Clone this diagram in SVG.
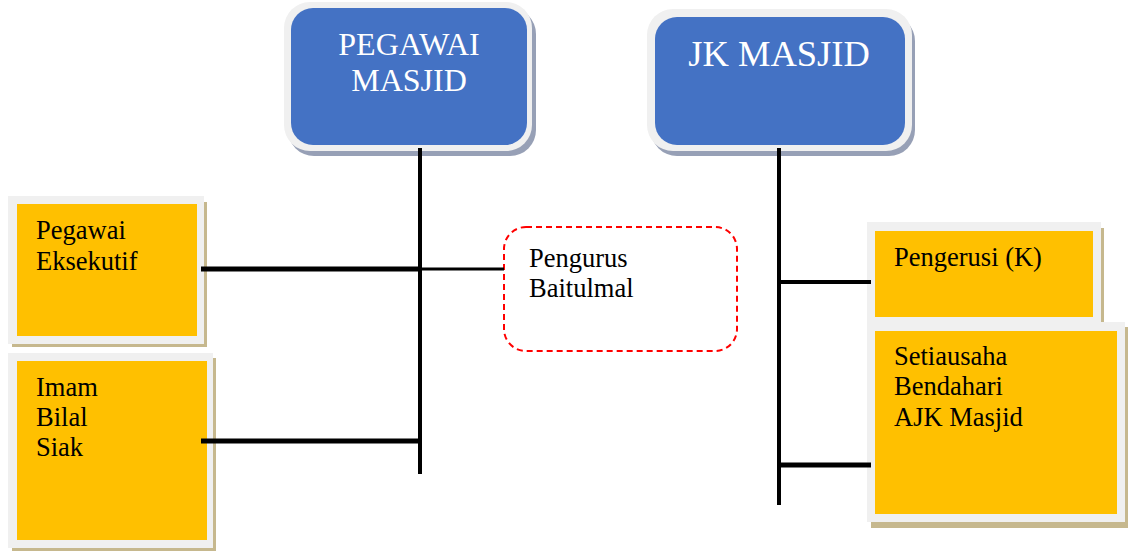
<svg xmlns="http://www.w3.org/2000/svg" width="1128" height="551" viewBox="0 0 1128 551">
<style>
.frame{fill:#F0F0F0}
.bshadow{fill:#97A0B6}
.yshadow{fill:#C6B88E}
.blue{fill:#4472C4}
.yellow{fill:#FFC000}
.ttl{fill:#FFFFFF;text-anchor:middle}
.lbl{font-size:26.5px;fill:#000000}
.ln{stroke:#000000;fill:none}
</style>
<rect width="1128" height="551" fill="#FFFFFF"/>
<g font-family="'Liberation Serif', 'Times New Roman', serif">
<g id="pegawai-masjid">
<rect class="bshadow" x="288" y="8" width="248" height="148" rx="26"/>
<rect class="frame" x="284" y="2" width="248" height="149" rx="26"/>
<rect class="blue" x="291" y="8" width="236" height="137" rx="22"/>
<text class="ttl" x="409" y="55" font-size="32">PEGAWAI</text>
<text class="ttl" x="409" y="91" font-size="32">MASJID</text>
</g>
<g id="jk-masjid">
<rect class="bshadow" x="651" y="15" width="264" height="141" rx="26"/>
<rect class="frame" x="647" y="9" width="265" height="142" rx="26"/>
<rect class="blue" x="655" y="17" width="250" height="128" rx="22"/>
<text class="ttl" x="779" y="66" font-size="36.5">JK MASJID</text>
</g>
<g id="pegawai-eksekutif">
<rect class="yshadow" x="12" y="202" width="195" height="145"/>
<rect class="frame" x="8" y="196" width="196" height="148"/>
<rect class="yellow" x="17" y="204" width="180" height="132"/>
<text class="lbl" x="36" y="239">Pegawai</text>
<text class="lbl" x="36" y="270">Eksekutif</text>
</g>
<g id="imam-bilal-siak">
<rect class="yshadow" x="12" y="358" width="204" height="193"/>
<rect class="frame" x="8" y="353" width="205" height="195"/>
<rect class="yellow" x="17" y="361" width="190" height="179"/>
<text class="lbl" x="36" y="396">Imam</text>
<text class="lbl" x="36" y="426">Bilal</text>
<text class="lbl" x="36" y="456">Siak</text>
</g>
<g id="pengurus-baitulmal">
<rect x="504" y="227" width="233" height="124" rx="22" fill="#FFFFFF" stroke="#FF0000" stroke-width="2" stroke-dasharray="6,4"/>
<text class="lbl" x="529" y="267">Pengurus</text>
<text class="lbl" x="529" y="297">Baitulmal</text>
</g>
<g id="pengerusi">
<rect class="yshadow" x="871" y="228" width="233" height="97"/>
<rect class="frame" x="867" y="222" width="234" height="100"/>
<rect class="yellow" x="875" y="231" width="218" height="86"/>
<text class="lbl" x="894" y="266">Pengerusi (K)</text>
</g>
<g id="setiausaha">
<rect class="yshadow" x="871" y="327" width="257" height="201"/>
<rect class="frame" x="867" y="322" width="258" height="200"/>
<rect class="yellow" x="875" y="331" width="242" height="183"/>
<text class="lbl" x="894" y="365">Setiausaha</text>
<text class="lbl" x="894" y="395">Bendahari</text>
<text class="lbl" x="894" y="426">AJK Masjid</text>
</g>
</g>
<g id="connectors">
<line class="ln" x1="420" y1="148" x2="420" y2="474" stroke-width="4"/>
<line class="ln" x1="779" y1="148" x2="779" y2="505" stroke-width="4"/>
<line class="ln" x1="201" y1="269" x2="420" y2="269" stroke-width="5"/>
<line class="ln" x1="420" y1="269" x2="504" y2="269" stroke-width="3"/>
<line class="ln" x1="201" y1="441" x2="420" y2="441" stroke-width="5"/>
<line class="ln" x1="779" y1="282" x2="871" y2="282" stroke-width="4"/>
<line class="ln" x1="779" y1="465" x2="871" y2="465" stroke-width="5"/>
</g>
</svg>
